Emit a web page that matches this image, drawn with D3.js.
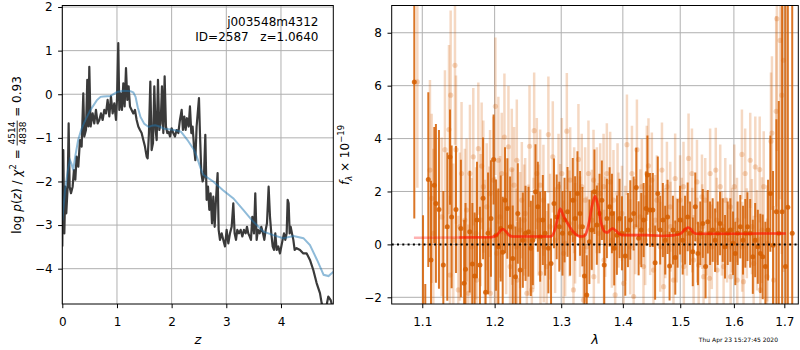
<!DOCTYPE html>
<html><head><meta charset="utf-8">
<script src="https://cdn.jsdelivr.net/npm/d3@7"></script>
<style>
body{margin:0;background:#fff}
svg{display:block}
text{font-family:"DejaVu Sans",sans-serif;fill:#000}
</style>
</head><body>
<svg id="c" width="800" height="350"></svg>
<script>
// ---------------- DATA ----------------
const zTicks=[0,1,2,3,4];
const pTicks=[-4,-3,-2,-1,0,1,2];
const lamTicks=[1.1,1.2,1.3,1.4,1.5,1.6,1.7];
const fTicks=[-2,0,2,4,6,8];
const titleLines=["j003548m4312","ID=2587   z=1.0640"];
const stamp="Thu Apr 23 15:27:45 2020";

// log p(z) curve [z, log p]
const pzCurve=[[0.000,-3.49],[0.018,-1.28],[0.037,-3.19],[0.055,-2.12],[0.073,-2.73],[0.098,-2.12],[0.116,-0.67],[0.134,-2.12],[0.159,-2.27],[0.189,-2.12],[0.213,-1.74],[0.238,-1.96],[0.262,-1.43],[0.293,-1.66],[0.323,-1.05],[0.354,-1.20],[0.384,0.02],[0.402,-0.97],[0.433,-0.82],[0.457,0.33],[0.476,-0.74],[0.494,0.63],[0.518,-0.74],[0.555,-0.44],[0.585,-0.67],[0.616,-0.36],[0.646,-0.67],[0.677,-0.59],[0.707,-0.44],[0.738,-0.59],[0.768,-0.36],[0.799,-0.44],[0.829,-0.13],[0.860,-0.51],[0.890,-0.05],[0.921,-0.44],[0.951,-0.21],[0.982,-0.59],[1.000,-0.13],[1.024,1.17],[1.043,-0.36],[1.067,0.02],[1.091,-0.36],[1.116,0.25],[1.140,-0.28],[1.165,0.60],[1.189,-0.13],[1.213,0.18],[1.238,-0.28],[1.268,-0.36],[1.299,-0.44],[1.329,-0.36],[1.360,-0.59],[1.390,-0.74],[1.421,-0.82],[1.451,-0.89],[1.482,-1.05],[1.512,-1.20],[1.543,-1.43],[1.561,-1.47],[1.585,-0.89],[1.610,0.29],[1.634,-1.28],[1.659,-1.12],[1.683,0.18],[1.707,-0.82],[1.726,-1.05],[1.750,0.33],[1.774,-0.82],[1.799,-0.67],[1.823,0.18],[1.848,-0.89],[1.872,0.41],[1.896,-0.74],[1.921,-0.89],[1.945,-0.86],[1.970,-0.97],[2.000,-0.78],[2.030,-0.89],[2.061,-0.97],[2.091,-0.82],[2.122,-0.89],[2.152,-0.59],[2.183,-0.36],[2.207,-0.82],[2.232,-0.51],[2.256,-0.82],[2.280,-0.55],[2.311,-0.74],[2.335,-0.28],[2.360,-0.89],[2.384,-0.74],[2.409,-1.20],[2.433,-1.51],[2.457,-0.74],[2.500,-0.09],[2.518,-0.89],[2.543,-1.81],[2.567,-2.00],[2.591,-1.89],[2.616,-0.93],[2.640,-2.42],[2.665,-2.12],[2.689,-2.65],[2.713,-2.27],[2.738,-2.96],[2.762,-2.35],[2.787,-3.04],[2.811,-2.42],[2.841,-1.81],[2.860,-3.11],[2.884,-3.34],[2.915,-3.19],[2.945,-3.34],[2.976,-3.49],[3.006,-3.11],[3.037,-3.42],[3.067,-3.19],[3.098,-3.04],[3.128,-2.50],[3.152,-3.19],[3.177,-3.34],[3.201,-3.11],[3.232,-3.19],[3.262,-3.11],[3.293,-3.26],[3.323,-3.11],[3.354,-3.19],[3.378,-3.04],[3.402,-3.19],[3.427,-3.26],[3.451,-3.34],[3.476,-2.81],[3.506,-3.19],[3.530,-2.27],[3.555,-3.34],[3.579,-3.11],[3.610,-3.19],[3.640,-3.04],[3.671,-3.19],[3.695,-3.34],[3.720,-3.11],[3.744,-2.96],[3.774,-2.12],[3.799,-2.81],[3.823,-3.19],[3.848,-3.49],[3.872,-3.57],[3.896,-3.19],[3.921,-3.57],[3.951,-3.49],[3.982,-3.65],[4.006,-3.49],[4.030,-3.34],[4.055,-3.19],[4.079,-3.34],[4.104,-3.19],[4.122,-2.42],[4.140,-2.50],[4.159,-3.19],[4.177,-3.04],[4.201,-3.19],[4.226,-3.34],[4.250,-3.57],[4.287,-3.53],[4.348,-3.57],[4.409,-3.65],[4.470,-3.65],[4.530,-3.80],[4.591,-4.03],[4.652,-4.33],[4.713,-4.56],[4.744,-4.79],[4.805,-5.02],[4.866,-4.64],[4.909,-4.72],[4.957,-4.95]];

// smooth prior curve [z, log p]
const priorCurve=[[0.00,-2.90],[0.05,-2.20],[0.10,-1.75],[0.14,-1.51],[0.17,-1.60],[0.20,-1.74],[0.24,-1.40],[0.29,-1.05],[0.35,-0.80],[0.42,-0.60],[0.51,-0.37],[0.63,-0.14],[0.70,-0.06],[0.75,-0.05],[0.88,-0.04],[1.00,0.05],[1.12,0.08],[1.25,0.07],[1.30,0.04],[1.34,-0.06],[1.38,-0.30],[1.43,-0.52],[1.50,-0.68],[1.58,-0.75],[1.64,-0.72],[1.70,-0.71],[1.78,-0.74],[1.86,-0.79],[1.95,-0.80],[2.04,-0.82],[2.17,-0.86],[2.29,-1.05],[2.41,-1.28],[2.46,-1.43],[2.53,-1.70],[2.58,-1.85],[2.76,-2.00],[2.94,-2.20],[3.13,-2.39],[3.31,-2.65],[3.49,-2.92],[3.68,-3.15],[3.86,-3.23],[4.04,-3.30],[4.23,-3.25],[4.41,-3.30],[4.53,-3.46],[4.66,-3.80],[4.78,-4.14],[4.87,-4.17],[4.96,-4.07]];

// spectrum, beam 1 (solid) [lambda, flux, err]
const specMain=[[1.0895,6.14,5.16],[1.1010,-2.60,3.70],[1.1040,-3.50,2.00],[1.1080,2.45,3.30],[1.1116,-0.59,3.00],[1.1160,2.24,2.20],[1.1182,1.55,3.00],[1.1223,1.32,3.00],[1.1282,-0.78,2.80],[1.1336,0.67,2.80],[1.1373,3.30,1.80],[1.1395,1.04,2.70],[1.1455,1.32,2.40],[1.1523,0.60,2.60],[1.1568,-1.47,2.40],[1.1587,-0.94,2.50],[1.1646,0.48,2.30],[1.1683,-0.74,2.30],[1.1715,-1.19,2.40],[1.1748,0.92,2.20],[1.1790,-0.78,2.20],[1.1834,1.74,2.30],[1.1870,-1.81,2.10],[1.1905,0.42,2.30],[1.1947,0.98,2.20],[1.1985,3.21,1.70],[1.2020,0.35,2.10],[1.2054,-0.09,2.20],[1.2088,0.60,2.00],[1.2117,-0.30,2.10],[1.2151,1.67,2.00],[1.2185,1.36,1.90],[1.2225,0.67,1.90],[1.2264,-0.53,2.00],[1.2304,-1.22,1.90],[1.2339,1.17,1.90],[1.2374,-0.97,2.00],[1.2414,0.16,1.80],[1.2454,0.42,1.80],[1.2499,0.48,1.70],[1.2534,-0.15,1.80],[1.2564,0.16,1.70],[1.2604,1.99,1.80],[1.2640,1.42,1.70],[1.2675,0.29,1.70],[1.2716,0.92,1.70],[1.2751,0.42,1.60],[1.2801,-0.15,1.70],[1.2842,-0.72,1.70],[1.2888,1.55,1.70],[1.2929,1.04,1.60],[1.2970,0.67,1.70],[1.3020,0.42,1.60],[1.3052,0.92,1.60],[1.3099,1.23,1.70],[1.3140,0.42,1.60],[1.3182,1.67,1.60],[1.3219,0.98,1.60],[1.3256,1.92,1.60],[1.3298,1.17,1.60],[1.3336,0.67,1.50],[1.3368,-1.19,1.60],[1.3405,-1.91,1.50],[1.3448,0.10,1.60],[1.3486,0.54,1.50],[1.3530,1.99,1.60],[1.3569,0.73,1.50],[1.3613,1.17,1.50],[1.3651,1.67,1.50],[1.3690,-0.78,1.50],[1.3734,0.98,1.50],[1.3779,1.42,1.50],[1.3818,1.17,1.50],[1.3855,-0.15,1.40],[1.3900,0.35,1.50],[1.3945,0.98,1.50],[1.3985,0.42,1.40],[1.4041,-0.44,1.50],[1.4086,0.54,1.40],[1.4126,0.92,1.50],[1.4183,1.17,1.40],[1.4228,2.15,1.50],[1.4268,0.23,1.40],[1.4314,0.54,1.40],[1.4354,0.92,1.40],[1.4397,1.36,1.40],[1.4420,2.62,1.50],[1.4467,1.30,1.40],[1.4514,1.30,1.40],[1.4554,-0.69,1.40],[1.4601,1.92,1.40],[1.4643,0.54,1.30],[1.4690,0.92,1.40],[1.4732,0.16,1.30],[1.4774,1.04,1.40],[1.4809,-0.82,1.30],[1.4869,0.54,1.30],[1.4911,-0.50,1.40],[1.4952,0.42,1.30],[1.4997,0.92,1.30],[1.5045,0.16,1.30],[1.5087,0.54,1.30],[1.5135,1.04,1.30],[1.5178,0.42,1.20],[1.5228,-0.28,1.30],[1.5274,1.42,1.30],[1.5323,-0.34,1.20],[1.5366,0.42,1.20],[1.5413,0.79,1.30],[1.5464,-0.84,1.20],[1.5505,0.86,1.20],[1.5548,0.42,1.20],[1.5597,0.54,1.20],[1.5642,0.16,1.20],[1.5692,0.42,1.20],[1.5736,0.79,1.20],[1.5786,0.54,1.20],[1.5830,-0.09,1.20],[1.5881,0.42,1.20],[1.5932,0.54,1.20],[1.5983,0.04,1.20],[1.6027,-0.34,1.20],[1.6072,0.42,1.20],[1.6124,0.67,1.20],[1.6176,0.16,1.30],[1.6221,0.42,1.30],[1.6263,0.67,1.30],[1.6316,0.42,1.30],[1.6368,-0.47,1.40],[1.6414,0.16,1.40],[1.6467,-0.09,1.40],[1.6517,-0.34,1.50],[1.6564,-0.47,1.60],[1.6617,-0.84,1.70],[1.6670,0.54,1.90],[1.6717,1.92,2.20],[1.6771,-0.03,2.80],[1.6839,1.23,3.50],[1.6887,0.42,5.00],[1.6955,1.23,10.0],[1.7024,-0.84,15.0],[1.7072,1.40,20.0],[1.7162,0.42,25.0]];

// spectrum, beam 2 (faint) [lambda, flux, err]
const specOther=[[1.0935,6.14,4.0],[1.1102,2.81,3.4],[1.1125,1.74,3.2],[1.1147,0.42,3.2],[1.1260,1.04,3.0],[1.1304,3.58,3.0],[1.1359,4.34,3.2],[1.1373,-1.16,3.0],[1.1382,5.64,3.2],[1.1418,0.16,2.9],[1.1441,6.77,3.0],[1.1455,3.58,2.8],[1.1487,-1.72,2.8],[1.1509,0.67,2.8],[1.1532,2.68,2.7],[1.1578,0.92,2.7],[1.1602,1.30,2.7],[1.1626,-1.85,2.6],[1.1649,2.68,2.6],[1.1673,-0.09,2.6],[1.1696,3.31,2.6],[1.1734,0.42,2.5],[1.1743,-1.35,2.5],[1.1767,3.62,2.5],[1.1800,0.92,2.5],[1.1814,2.96,2.4],[1.1838,2.18,2.5],[1.1862,0.04,2.4],[1.1886,1.42,2.4],[1.1924,0.54,2.4],[1.1934,1.92,2.4],[1.1940,-1.85,2.4],[1.1982,2.43,2.4],[1.2006,0.16,2.4],[1.2011,5.22,2.6],[1.2030,-0.34,2.4],[1.2054,3.18,2.4],[1.2079,1.04,2.3],[1.2103,2.68,2.3],[1.2142,4.06,2.4],[1.2167,0.42,2.3],[1.2201,3.69,2.3],[1.2225,-0.84,2.3],[1.2250,2.83,2.3],[1.2256,0.67,2.2],[1.2284,2.24,2.2],[1.2314,-0.09,2.2],[1.2324,3.18,2.3],[1.2330,-1.35,2.2],[1.2374,0.54,2.2],[1.2399,1.67,2.2],[1.2434,0.92,2.1],[1.2449,1.17,2.1],[1.2474,-1.85,2.1],[1.2499,0.16,2.1],[1.2514,3.71,2.3],[1.2549,-1.72,2.1],[1.2574,0.42,2.1],[1.2584,4.30,2.2],[1.2624,2.68,2.1],[1.2650,0.92,2.1],[1.2675,2.24,2.1],[1.2680,-1.09,2.1],[1.2725,1.67,2.1],[1.2730,-0.09,2.1],[1.2775,-0.84,2.1],[1.2801,4.15,2.2],[1.2827,0.67,2.0],[1.2869,3.31,2.1],[1.2905,0.16,2.0],[1.2958,2.18,2.0],[1.2984,1.04,2.0],[1.3010,2.68,2.1],[1.3036,-0.34,2.0],[1.3062,0.04,2.0],[1.3088,4.28,2.2],[1.3130,0.79,2.0],[1.3141,2.43,2.0],[1.3193,-1.72,2.0],[1.3204,1.67,2.0],[1.3219,0.42,1.9],[1.3272,3.21,2.1],[1.3298,0.67,1.9],[1.3325,2.18,2.0],[1.3352,-2.10,2.0],[1.3379,1.67,2.0],[1.3406,-0.09,1.9],[1.3433,2.68,2.0],[1.3488,0.92,1.9],[1.3515,2.43,1.9],[1.3520,-1.22,1.9],[1.3569,1.67,2.0],[1.3596,0.42,1.9],[1.3624,1.92,1.9],[1.3679,2.18,2.0],[1.3685,-0.59,1.9],[1.3706,0.67,1.9],[1.3733,2.68,1.9],[1.3788,2.36,1.9],[1.3816,0.16,1.8],[1.3843,1.67,1.9],[1.3871,-1.91,1.9],[1.3911,1.92,1.9],[1.3928,0.92,1.8],[1.3985,1.17,1.8],[1.4013,-1.47,1.8],[1.4041,0.42,1.8],[1.4069,3.77,1.9],[1.4126,-0.09,1.8],[1.4154,2.68,1.8],[1.4183,-1.97,1.8],[1.4211,0.67,1.8],[1.4239,3.58,1.9],[1.4296,1.04,1.8],[1.4324,2.18,1.8],[1.4352,-0.84,1.8],[1.4381,0.16,1.7],[1.4409,2.68,1.8],[1.4438,2.97,1.8],[1.4468,0.54,1.7],[1.4497,2.43,1.8],[1.4526,-0.97,1.8],[1.4556,0.92,1.7],[1.4585,1.67,1.7],[1.4644,-0.09,1.7],[1.4674,2.81,1.8],[1.4703,-1.60,1.7],[1.4732,0.42,1.7],[1.4762,2.18,1.7],[1.4821,1.42,1.7],[1.4826,0.67,1.7],[1.4879,-1.35,1.7],[1.4909,2.49,1.7],[1.4938,0.16,1.6],[1.4997,1.67,1.7],[1.5028,0.92,1.6],[1.5059,2.18,1.7],[1.5065,-0.84,1.7],[1.5120,0.42,1.6],[1.5151,3.25,1.7],[1.5213,2.68,1.7],[1.5218,0.54,1.6],[1.5243,-0.59,1.7],[1.5305,2.36,1.6],[1.5310,0.16,1.6],[1.5336,-0.78,1.6],[1.5397,1.80,1.6],[1.5402,0.67,1.6],[1.5427,-1.22,1.6],[1.5458,1.67,1.6],[1.5488,0.42,1.6],[1.5537,-1.28,1.6],[1.5549,2.68,1.7],[1.5580,-0.09,1.6],[1.5655,2.81,1.6],[1.5674,0.92,1.6],[1.5680,-0.97,1.6],[1.5739,2.18,1.6],[1.5771,0.42,1.6],[1.5803,-0.84,1.6],[1.5835,1.67,1.6],[1.5868,0.16,1.6],[1.5932,1.42,1.6],[1.5937,-1.22,1.6],[1.5964,0.54,1.6],[1.6008,2.18,1.6],[1.6059,0.92,1.6],[1.6065,-1.35,1.6],[1.6155,3.40,1.7],[1.6160,-0.09,1.7],[1.6186,-1.41,1.7],[1.6218,2.68,1.7],[1.6250,0.42,1.7],[1.6317,3.18,1.8],[1.6350,0.67,1.8],[1.6384,-0.72,1.8],[1.6417,2.93,1.9],[1.6450,0.16,1.9],[1.6504,2.83,2.0],[1.6517,-1.72,2.0],[1.6550,0.54,2.0],[1.6584,2.18,2.1],[1.6650,-1.22,2.2],[1.6655,0.04,2.2],[1.6729,3.90,2.6],[1.6749,4.21,2.9],[1.6782,-1.35,2.8],[1.6835,5.03,3.6],[1.6848,8.53,5.0],[1.6914,7.71,6.0],[1.6948,5.64,6.0],[1.6983,6.96,8.0]];

// best-fit model [lambda, flux]
const modelCurve=[[1.089,0.25],[1.150,0.26],[1.195,0.27],[1.203,0.35],[1.208,0.50],[1.2117,0.58],[1.216,0.50],[1.221,0.35],[1.226,0.30],[1.260,0.30],[1.284,0.30],[1.290,0.55],[1.295,1.05],[1.2985,1.35],[1.303,1.10],[1.310,0.80],[1.318,0.50],[1.326,0.33],[1.333,0.30],[1.338,0.35],[1.344,0.80],[1.349,1.45],[1.354,1.82],[1.359,1.45],[1.364,0.80],[1.369,0.50],[1.374,0.45],[1.379,0.55],[1.383,0.60],[1.388,0.52],[1.394,0.40],[1.400,0.35],[1.440,0.35],[1.470,0.32],[1.490,0.35],[1.500,0.40],[1.508,0.55],[1.514,0.64],[1.519,0.58],[1.524,0.45],[1.530,0.40],[1.600,0.40],[1.650,0.41],[1.703,0.41]];
const modelFullStart=1.105;

// ---------------- DRAW ----------------
const svg=d3.select('#c');
const FS=12;
const L={x0:62.3,x1:333.3,y0:5.5,y1:304};
const R={x0:391.7,x1:798.3,y0:5.5,y1:304};
const ORANGE="#d55e00", GRID="#b0b0b0";

const xz=d3.scaleLinear().domain([0,4.957]).range([L.x0,L.x1]);
const yp=d3.scaleLinear().domain([-4.81,2.035]).range([L.y1,L.y0]);
const xl=d3.scaleLog().domain([1.0603,1.7288]).range([R.x0,R.x1]);
const yf=d3.scaleLinear().domain([-2.253,9.03]).range([R.y1,R.y0]);

const defs=svg.append('defs');
[['clipL',L],['clipR',R]].forEach(([id,b])=>{
  defs.append('clipPath').attr('id',id).append('rect')
    .attr('x',b.x0).attr('y',b.y0).attr('width',b.x1-b.x0).attr('height',b.y1-b.y0);
});

function grid(b,xs,xt,ys,yt){
  const g=svg.append('g');
  g.selectAll('.gx').data(xt).join('line')
    .attr('x1',d=>xs(d)).attr('x2',d=>xs(d)).attr('y1',b.y0).attr('y2',b.y1)
    .attr('stroke',GRID).attr('stroke-width',1);
  g.selectAll('.gy').data(yt).join('line')
    .attr('x1',b.x0).attr('x2',b.x1).attr('y1',d=>ys(d)).attr('y2',d=>ys(d))
    .attr('stroke',GRID).attr('stroke-width',1);
}
grid(L,xz,zTicks,yp,pTicks);
grid(R,xl,lamTicks,yf,fTicks);

// ----- left panel curves
const gL=svg.append('g').attr('clip-path','url(#clipL)');
const lineL=d3.line().x(d=>xz(d[0])).y(d=>yp(d[1]));
gL.append('path').datum(pzCurve).attr('d',lineL).attr('fill','none')
  .attr('stroke','#3a3a3a').attr('stroke-width',2.2).attr('stroke-linejoin','round');
gL.append('path').datum(priorCurve).attr('d',lineL).attr('fill','none')
  .attr('stroke','#1f77b4').attr('stroke-opacity',0.5).attr('stroke-width',2);

// ----- right panel spectrum
const gR=svg.append('g').attr('clip-path','url(#clipR)');
function errPts(data,op,bw,r){
  const g=gR.append('g');
  g.selectAll('line').data(data).join('line')
    .attr('x1',d=>xl(d[0])).attr('x2',d=>xl(d[0]))
    .attr('y1',d=>yf(d[1]-d[2])).attr('y2',d=>yf(d[1]+d[2]))
    .attr('stroke',ORANGE).attr('stroke-opacity',op).attr('stroke-width',bw);
  g.selectAll('circle').data(data).join('circle')
    .attr('cx',d=>xl(d[0])).attr('cy',d=>yf(d[1])).attr('r',r)
    .attr('fill',ORANGE).attr('fill-opacity',op);
}
errPts(specOther,0.24,2.5,2.6);
errPts(specMain,0.85,2.0,2.5);

const lineR=d3.line().x(d=>xl(d[0])).y(d=>yf(d[1])).curve(d3.curveMonotoneX);
gR.append('path').datum(modelCurve).attr('d',lineR).attr('fill','none')
  .attr('stroke','#ff0000').attr('stroke-opacity',0.3).attr('stroke-width',2.6);
gR.append('path').datum(modelCurve.filter(d=>d[0]>=modelFullStart)).attr('d',lineR).attr('fill','none')
  .attr('stroke','#ff1a00').attr('stroke-opacity',0.55).attr('stroke-width',2.6);

gR.append('line').attr('x1',R.x0).attr('x2',R.x1).attr('y1',yf(0)).attr('y2',yf(0))
  .attr('stroke','#000').attr('stroke-width',2).attr('stroke-dasharray','2,3.3');

// ----- axes
function axes(b,xs,xt,xfmt,ys,yt,yfmt){
  const ax=svg.append('g').attr('transform',`translate(0,${b.y1})`)
    .call(d3.axisBottom(xs).tickValues(xt).tickFormat(xfmt).tickSize(4.2).tickPadding(9));
  const ay=svg.append('g').attr('transform',`translate(${b.x0},0)`)
    .call(d3.axisLeft(ys).tickValues(yt).tickFormat(yfmt).tickSize(4.2).tickPadding(5.5));
  [ax,ay].forEach(a=>{
    a.select('.domain').remove();
    a.selectAll('text').style('font-size',FS+'px').style('font-family','"DejaVu Sans",sans-serif').attr('fill','#000');
    a.selectAll('line').attr('stroke','#000').attr('stroke-width',1);
  });
  svg.append('rect').attr('x',b.x0).attr('y',b.y0).attr('width',b.x1-b.x0).attr('height',b.y1-b.y0)
    .attr('fill','none').attr('stroke','#000').attr('stroke-width',1);
}
const minusFmt=d=>d3.format('d')(d);
axes(L,xz,zTicks,d3.format('d'),yp,pTicks,minusFmt);
axes(R,xl,lamTicks,d3.format('.1f'),yf,fTicks,minusFmt);

// ----- texts
svg.append('text').attr('x',318.5).attr('y',26).attr('text-anchor','end')
  .style('font-size',FS+'px').text(titleLines[0]);
svg.append('text').attr('x',318.5).attr('y',41).attr('text-anchor','end')
  .style('font-size',FS+'px').style('white-space','pre').text(titleLines[1]);

svg.append('text').attr('x',(L.x0+L.x1)/2).attr('y',344).attr('text-anchor','middle')
  .style('font-size','13px').style('font-style','italic').text('z');
svg.append('text').attr('x',(R.x0+R.x1)/2).attr('y',344).attr('text-anchor','middle')
  .style('font-size','13px').style('font-style','italic').text('λ');

svg.append('text').attr('x',778).attr('y',341.5).attr('text-anchor','end')
  .style('font-size','6px').text(stamp);

// rich rotated label builder
function richLabel(cx,cy,pieces){
  const outer=svg.append('g').attr('transform',`translate(${cx},${cy}) rotate(-90)`);
  const g=outer.append('g');
  let x=0;
  pieces.forEach(p=>{
    if(p.frac){
      const n=g.append('text').attr('y',p.ny).style('font-size',p.size+'px').text(p.num);
      const d=g.append('text').attr('y',p.dy).style('font-size',p.size+'px').text(p.den);
      const wn=n.node().getComputedTextLength(), wd=d.node().getComputedTextLength();
      const w=Math.max(wn,wd)+2;
      n.attr('x',x+(w-wn)/2); d.attr('x',x+(w-wd)/2);
      g.append('line').attr('x1',x).attr('x2',x+w).attr('y1',p.by).attr('y2',p.by)
        .attr('stroke','#000').attr('stroke-width',0.8);
      x+=w;
    } else {
      const t=g.append('text').attr('x',x).attr('y',p.y||0)
        .style('font-size',(p.size||FS)+'px').style('white-space','pre')
        .style('font-style',p.it?'italic':'normal').text(p.t);
      x+=t.node().getComputedTextLength()+(p.gap||0);
    }
  });
  g.attr('transform',`translate(${-x/2},0)`);
}
richLabel(21,155,[
  {t:'log '},{t:'p',it:true},{t:'('},{t:'z',it:true},{t:') / '},
  {t:'χ',it:true},{t:'2',size:8.5,y:-5,gap:1},{t:' = '},
  {frac:true,num:'4514',den:'4838',size:9,ny:-6,dy:4.8,by:-3.8},
  {t:' = 0.93'}
]);
richLabel(349,155,[
  {t:'f',it:true},{t:'λ',size:8.5,y:3,it:true},{t:' × 10'},{t:'−19',size:8.5,y:-5}
]);
</script>
</body></html>
